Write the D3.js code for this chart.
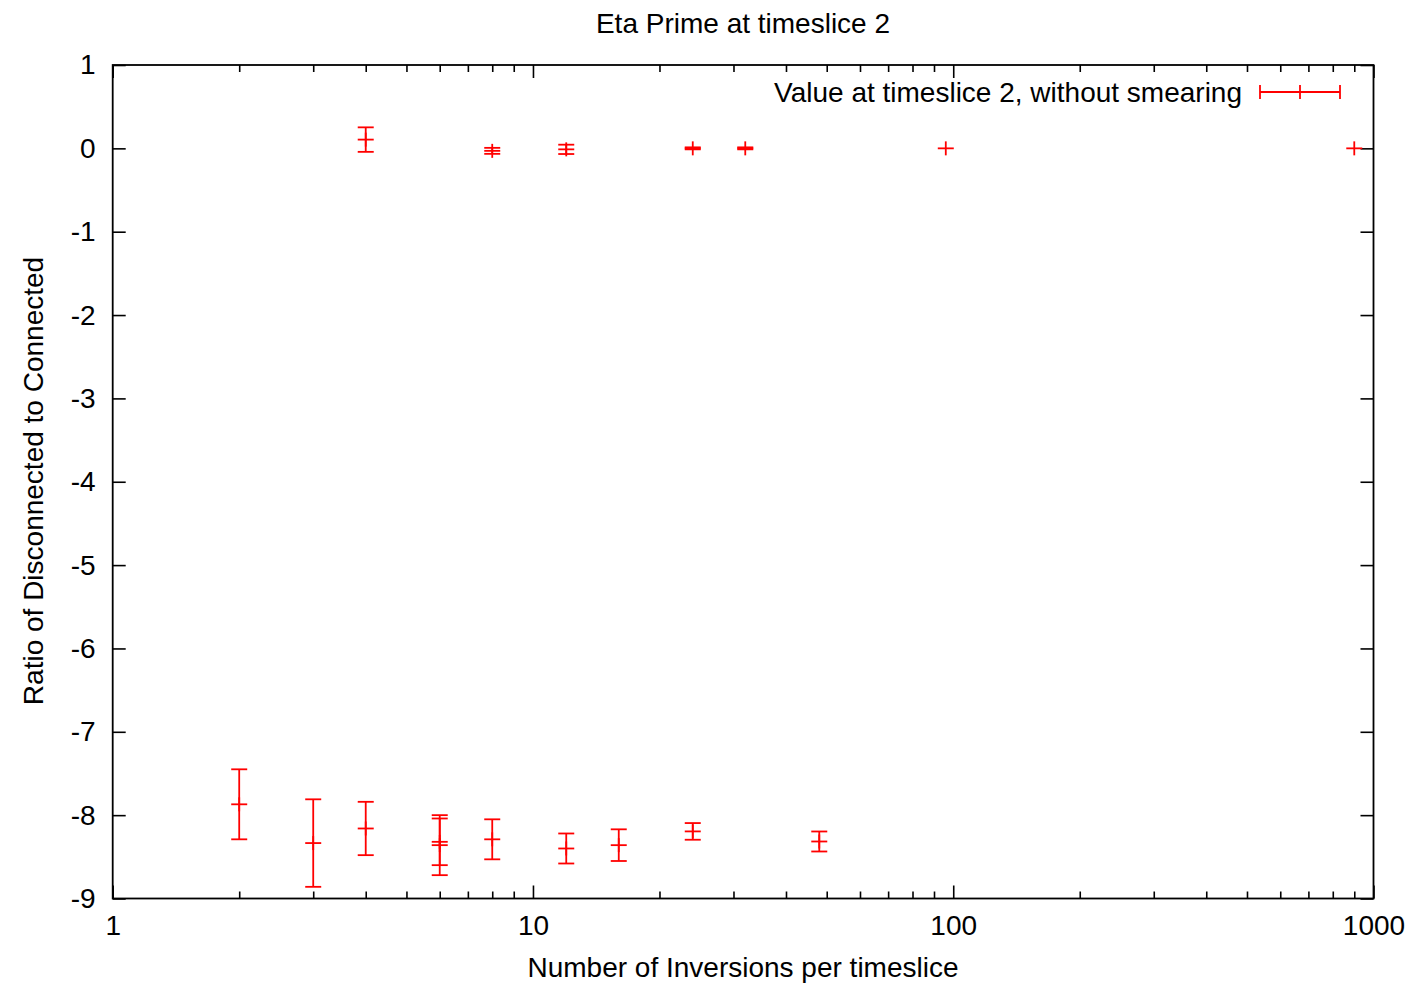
<!DOCTYPE html>
<html><head><meta charset="utf-8">
<script src="https://cdn.jsdelivr.net/npm/d3@7"></script>
<style>
html,body{margin:0;padding:0;background:#fff;}
text{font-family:"Liberation Sans",Arial,Helvetica,sans-serif;fill:#000;}
</style></head>
<body>
<svg id="chart" width="1422" height="995"></svg>
<script>
// Data
const xValues   = [2, 3, 4, 6, 6, 8, 12, 16, 24, 48, 4, 8, 12, 24, 32, 96, 900];
const yValues   = [-7.87, -8.335, -8.16, -8.36, -8.32, -8.29, -8.40, -8.36, -8.195, -8.316,
                   0.105, -0.03, -0.012, 0.0, 0.0, 0.0, 0.0];
const yErrors   = [0.42, 0.525, 0.32, 0.36, 0.28, 0.24, 0.18, 0.19, 0.10, 0.12,
                   0.147, 0.036, 0.056, 0.012, 0.012, 0, 0];
const xMajorTicks = [1, 10, 100, 1000];
const yTicks = [1, 0, -1, -2, -3, -4, -5, -6, -7, -8, -9];
const titleText = "Eta Prime at timeslice 2";
const xLabel = "Number of Inversions per timeslice";
const yLabel = "Ratio of Disconnected to Connected";
const legendLabel = "Value at timeslice 2, without smearing";

const svg = d3.select("#chart");
const L = 112.7, R = 1373.5, T = 65, B = 898.5;
const x = d3.scaleLog().domain([1, 1000]).range([L, R]);
const y = d3.scaleLinear().domain([-9, 1]).range([B, T]);
const fs = 28;
const red = "#ff0000";
const fmt = d => String(d);

const xMinor = x.ticks().filter(d => !xMajorTicks.includes(d));

// Bottom axis (major with labels, minor without)
const gB = svg.append("g").attr("transform", `translate(0,${B})`);
gB.call(d3.axisBottom(x).tickValues(xMajorTicks).tickSize(-13).tickPadding(17).tickFormat(fmt));
gB.select(".domain").remove();
const gB2 = svg.append("g").attr("transform", `translate(0,${B})`);
gB2.call(d3.axisBottom(x).tickValues(xMinor).tickSize(-7).tickFormat(""));
gB2.select(".domain").remove();
// Top axis mirror
const gT = svg.append("g").attr("transform", `translate(0,${T})`);
gT.call(d3.axisTop(x).tickValues(xMajorTicks).tickSize(-13).tickFormat(""));
gT.select(".domain").remove();
const gT2 = svg.append("g").attr("transform", `translate(0,${T})`);
gT2.call(d3.axisTop(x).tickValues(xMinor).tickSize(-7).tickFormat(""));
gT2.select(".domain").remove();
// Left axis
const gL = svg.append("g").attr("transform", `translate(${L},0)`);
gL.call(d3.axisLeft(y).tickValues(yTicks).tickSize(-13).tickPadding(17).tickFormat(fmt));
gL.select(".domain").remove();
// Right axis mirror
const gR = svg.append("g").attr("transform", `translate(${R},0)`);
gR.call(d3.axisRight(y).tickValues(yTicks).tickSize(-13).tickFormat(""));
gR.select(".domain").remove();

svg.selectAll(".tick line").attr("stroke", "#000").attr("stroke-width", 1.6);
svg.selectAll(".tick text").attr("font-size", fs).attr("font-family", null);

// Frame
svg.append("rect").attr("x", L).attr("y", T).attr("width", R - L).attr("height", B - T)
  .attr("fill", "none").attr("stroke", "#000").attr("stroke-width", 1.8);

// Error bars
const cap = 8, ph = 7;
const pts = xValues.map((d, i) => ({x: d, y: yValues[i], e: yErrors[i]}));
const gP = svg.append("g").attr("stroke", red).attr("stroke-width", 1.8).attr("fill", "none");
pts.forEach(p => {
  const cx = x(p.x), cy = y(p.y), y0 = y(p.y - p.e), y1 = y(p.y + p.e);
  gP.append("line").attr("x1", cx).attr("x2", cx).attr("y1", y1).attr("y2", y0);
  if (p.e > 0) {
    gP.append("line").attr("x1", cx - cap).attr("x2", cx + cap).attr("y1", y1).attr("y2", y1);
    gP.append("line").attr("x1", cx - cap).attr("x2", cx + cap).attr("y1", y0).attr("y2", y0);
  }
  // point marker "+"
  gP.append("line").attr("x1", cx - cap).attr("x2", cx + cap).attr("y1", cy).attr("y2", cy);
  gP.append("line").attr("x1", cx).attr("x2", cx).attr("y1", cy - ph).attr("y2", cy + ph);
});

// Legend
const ly = 92, lx0 = 1260, lx1 = 1340;
svg.append("text").attr("x", 1242).attr("y", ly).attr("dy", "0.35em").attr("text-anchor", "end")
  .attr("font-size", fs).text(legendLabel);
const gLeg = svg.append("g").attr("stroke", red).attr("stroke-width", 1.8);
gLeg.append("line").attr("x1", lx0).attr("x2", lx1).attr("y1", ly).attr("y2", ly);
[lx0, (lx0 + lx1) / 2, lx1].forEach(v => {
  gLeg.append("line").attr("x1", v).attr("x2", v).attr("y1", ly - 7).attr("y2", ly + 7);
});

// Titles
svg.append("text").attr("x", 743).attr("y", 33).attr("text-anchor", "middle").attr("font-size", fs).text(titleText);
svg.append("text").attr("x", 743).attr("y", 977).attr("text-anchor", "middle").attr("font-size", fs).text(xLabel);
svg.append("text").attr("transform", "translate(43,481) rotate(-90)").attr("text-anchor", "middle")
  .attr("font-size", fs).text(yLabel);
</script>
</body></html>
